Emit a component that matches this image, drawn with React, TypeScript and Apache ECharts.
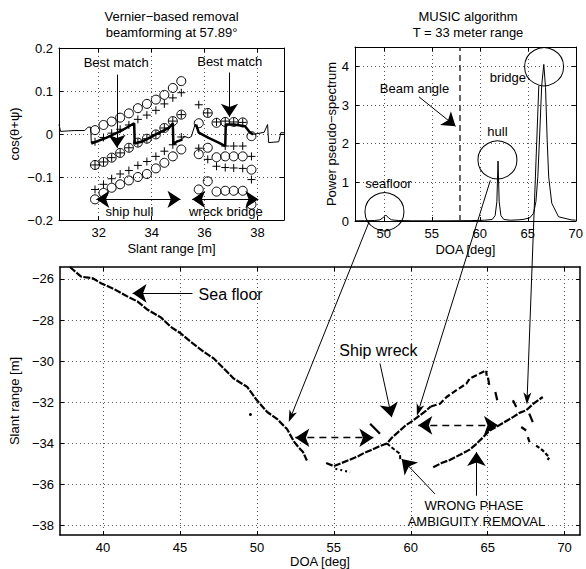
import React, { useEffect, useRef } from 'react';
import * as echarts from 'echarts';

const FONT = '"Liberation Sans", Arial, Helvetica, sans-serif';

// ---------- Top-left: Vernier-based removal ----------
const tlXTicks = [32, 34, 36, 38];
const tlYTicks = [-0.2, -0.1, 0, 0.1, 0.2];
const hullX = [31.86, 32.18, 32.49, 32.81, 33.14, 33.48, 33.82, 34.16, 34.48, 34.8, 35.12];
const hullCircleUpper = [0.009, 0.021, 0.029, 0.038, 0.048, 0.06, 0.07, 0.08, 0.091, 0.107, 0.123];
const hullPlusUpper = [-0.018, -0.008, 0.002, 0.011, 0.021, 0.034, 0.044, 0.055, 0.07, 0.084, 0.096];
const hullBoth = [-0.072, -0.065, -0.055, -0.044, -0.032, -0.02, -0.011, -0.001, 0.014, 0.03, 0.045];
const hullPlusLower = [-0.129, -0.117, -0.104, -0.093, -0.085, -0.073, -0.064, -0.052, -0.04, -0.025, -0.007];
const hullCircleLower = [-0.152, -0.137, -0.125, -0.117, -0.108, -0.1, -0.093, -0.08, -0.067, -0.052, -0.036];
const bridgeX = [35.78, 36.12, 36.45, 36.78, 37.1, 37.44, 37.77];
const bridgeCircleUpper = [0.025, 0.049, 0.026, 0.028, 0.028, 0.027, -0.005];
const bridgeCircleMid = [-0.047, -0.032, -0.054, -0.052, -0.052, -0.052, -0.083];
const bridgeCircleLower = [-0.129, -0.11, -0.134, -0.132, -0.132, -0.132, -0.164];
const bridgePlus = [
  [35.78, 0.068], [36.12, 0.049], [36.45, 0.028], [36.78, 0.03], [37.1, 0.028], [37.44, 0.027],
  [35.78, -0.033], [36.12, -0.059], [36.45, -0.075], [36.78, -0.028], [37.1, -0.028], [37.44, -0.028], [37.77, -0.052],
  [36.78, -0.078], [37.1, -0.079], [37.44, -0.08], [37.77, -0.106],
];
const hullBest = [[31.72, -0.022], [32.28, -0.009], [32.84, 0.007], [33.34, 0.025], [33.36, -0.022], [33.66, -0.017], [34.16, -0.001], [34.65, 0.014], [34.8, 0.025], [34.82, -0.024], [34.97, -0.017], [35.16, -0.013]];
const bridgeBest = [[35.68, 0.022], [35.78, 0.003], [36.15, -0.009], [36.53, -0.02], [36.78, -0.028], [36.8, 0.022], [37.1, 0.022], [37.53, 0.018], [37.72, 0.003], [37.84, -0.001]];
const beamLeft = [[30.5, 0.022], [30.56, 0.006], [30.8, 0.007], [31.1, 0.008], [31.47, 0.008], [31.6, 0.016], [31.7, 0.016], [31.72, -0.022]];
const beamMid = [[35.16, -0.013], [35.22, -0.005], [35.4, -0.009], [35.5, -0.006], [35.64, 0.022], [35.68, 0.022]];
const beamRight = [[37.84, -0.001], [38.25, 0.004], [38.38, 0.022], [38.42, -0.02], [38.8, -0.018], [38.88, 0.003], [39, 0.003]];
const tlLabels = [
  { name: 'Best match', value: [32.66, 0.166] },
  { name: 'Best match', value: [36.95, 0.169] },
  { name: 'ship hull', value: [33.16, -0.18] },
  { name: 'wreck bridge', value: [36.8, -0.18] },
];
const tlArrows = [[[32.69, 0.138], [32.69, -0.032]], [[36.94, 0.143], [36.94, 0.04]]];
const tlDoubleArrows = [[[31.91, -0.152], [35.09, -0.152]], [[35.53, -0.152], [38.03, -0.152]]];

// ---------- Top-right: MUSIC ----------
const trXTicks = [50, 55, 60, 65, 70];
const trYTicks = [0, 1, 2, 3, 4];
const spectrum = [
  [47, 0.005], [48, 0.008], [49, 0.012], [49.6, 0.03], [49.9, 0.08], [50.2, 0.155], [50.5, 0.08], [50.8, 0.03], [51.5, 0.012],
  [53, 0.006], [55, 0.005], [57, 0.006], [59, 0.01], [60.5, 0.02], [61.3, 0.04], [61.6, 0.14], [61.78, 0.5], [61.9, 1.55],
  [62.02, 0.5], [62.2, 0.14], [62.5, 0.04], [63.2, 0.02], [64, 0.03], [64.5, 0.04], [65.2, 0.08], [65.6, 0.2], [65.85, 0.5],
  [66.05, 1.15], [66.25, 2.3], [66.45, 3.5], [66.67, 4.05], [66.85, 3.45], [67.02, 2.1], [67.18, 1.14], [67.5, 0.46],
  [68.2, 0.11], [69.5, 0.03], [70, 0.02],
];
const beamAngle = 57.89;
const trCircles = [[50.07, 0.24], [61.84, 1.58], [66.7, 3.99]];
const trLabels = [
  { name: 'Beam angle', value: [53.2, 3.43] },
  { name: 'hull', value: [61.84, 2.31] },
  { name: 'bridge', value: [62.93, 3.7] },
  { name: 'seafloor', value: [50.48, 0.97] },
];
const trArrows = [[[53.67, 3.21], [57.48, 2.45]]];

// ---------- Bottom: DOA vs slant range ----------
const bXTicks = [40, 45, 50, 55, 60, 65, 70];
const bYTicks = [-38, -36, -34, -32, -30, -28, -26];
const seaFloor = [
  [37.85, -25.42], [38.58, -25.89], [39.33, -25.97], [39.87, -26.21], [40.73, -26.5], [41.6, -26.86], [42.25, -27.1],
  [42.9, -27.5], [43.76, -27.87], [44.4, -28.33], [45.05, -28.65], [45.7, -29.06], [46.56, -29.55], [47.2, -29.87],
  [47.86, -30.36], [48.5, -30.85], [49.37, -31.25], [50.0, -31.9], [50.67, -32.47], [51.3, -32.8], [51.96, -33.3],
  [52.4, -33.9], [52.7, -34.18], [53.0, -34.42], [53.25, -34.83],
];
const seaDot = [[49.58, -32.59]];
const hullTrack = [
  [54.5, -34.95], [55.0, -35.1], [55.5, -34.95], [56.0, -34.8], [56.5, -34.65], [57.0, -34.45], [57.4, -34.33],
  [58.0, -34.12], [58.45, -34.0], [58.8, -33.7], [59.3, -33.37], [59.7, -33.1], [60.16, -32.88], [60.6, -32.63],
  [61.0, -32.4], [61.3, -32.2],
];
const hullTail = [[58.45, -34.0], [58.87, -34.26], [59.3, -34.5], [59.32, -34.83]];
const hullDots = [[55.1, -35.23], [55.63, -35.32], [56.06, -35.4]];
const hullStub = [[57.36, -33.04], [58.0, -33.53]];
const upperTrack = [[61.3, -32.2], [61.9, -32.07], [62.33, -31.74], [62.97, -31.41], [63.62, -31.09], [63.83, -30.84], [64.27, -30.68], [64.9, -30.44], [64.93, -30.7]];
const upperBitA = [[65.02, -30.8], [65.1, -31.15]];
const upperBitB = [[65.5, -31.5], [65.62, -31.9]];
const bridgeTrack = [
  [61.46, -35.16], [62.0, -34.95], [62.54, -34.8], [63.2, -34.55], [63.83, -34.3], [64.3, -34.0], [64.7, -33.7],
  [65.13, -33.37], [65.56, -33.2], [66.0, -33.0], [66.64, -32.72], [67.1, -32.5], [67.5, -32.39], [68.0, -32.05], [68.58, -31.74],
];
const bridgeSpurA = [[66.64, -31.9], [66.86, -32.23]];
const bridgeSpurB = [[67.7, -32.55], [67.93, -32.96]];
const bridgeBitA = [[67.18, -33.2], [67.5, -33.37]];
const bridgeBitB = [[67.61, -33.69], [67.72, -33.94]];
const bridgeBitC = [[68.15, -34.1], [68.58, -34.34], [69.0, -34.67], [68.9, -34.8]];
const bLabels = [
  { name: 'WRONG PHASE', value: [64.11, -37.02] },
  { name: 'AMBIGUITY REMOVAL', value: [64.27, -37.79] },
];
const bBigLabels = [
  { name: 'Sea floor', value: [48.29, -26.78] },
  { name: 'Ship wreck', value: [57.9, -29.5] },
];
const bArrows = [
  [[45.81, -26.7], [41.92, -26.7]],
  [[58.0, -30.11], [58.76, -32.72]],
  [[61.57, -36.45], [59.41, -34.75]],
  [[64.27, -36.54], [64.27, -34.42]],
];
const bDashedArrows = [[[52.5, -33.72], [57.57, -33.72]], [[60.49, -33.12], [65.67, -33.12]]];

// cross-panel links: from top-right (MUSIC) to bottom
const crossFrom = [[48.5, 0.0], [61.1, 1.05], [66.15, 3.5]];
const crossTo = [[52.07, -32.96], [60.4, -32.65], [67.55, -32.1]];

const fmt = (v: number) => {
  const r = Math.round(v * 100) / 100;
  return (r < 0 ? '\u2212' : '') + String(Math.abs(r));
};

const pts = (xs: number[], ys: number[]) => xs.map((x, i) => [x, ys[i]]);

function axis(gridIndex: number, position: string, min: number, max: number, ticks: number[], main: boolean, lw: number, extra: any = {}) {
  return {
    type: 'value', gridIndex, position, min, max,
    axisLine: { show: true, onZero: false, lineStyle: { color: '#000', width: lw } },
    axisTick: { show: true, inside: true, length: 4, customValues: ticks, lineStyle: { color: '#000', width: 1 } },
    axisLabel: { show: main, customValues: ticks, formatter: fmt, color: '#000', fontSize: 13, fontFamily: FONT, margin: 6 },
    splitLine: { show: main, lineStyle: { color: '#555', width: 1, type: [1, 3] } },
    nameTextStyle: { color: '#000', fontSize: 13, fontFamily: FONT },
    ...extra,
  };
}

const lineSeries = (ai: number, data: number[][], width: number, dash?: any) => ({
  type: 'line', xAxisIndex: ai, yAxisIndex: ai, data, showSymbol: false, symbol: 'none', silent: true,
  lineStyle: { color: '#000', width, type: dash || 'solid' }, z: 3,
});

const circleSeries = (ai: number, data: number[][], size: any) => ({
  type: 'scatter', xAxisIndex: ai, yAxisIndex: ai, data, symbol: 'circle', symbolSize: size, silent: true,
  itemStyle: { color: 'rgba(0,0,0,0)', borderColor: '#000', borderWidth: 1, opacity: 1 }, z: 4,
});

const plusSeries = (ai: number, data: number[][]) => ({
  type: 'scatter', xAxisIndex: ai, yAxisIndex: ai, data, symbol: 'path://M5,0L5,10M0,5L10,5', symbolSize: 8, silent: true,
  itemStyle: { color: '#000', borderColor: '#000', borderWidth: 1, opacity: 1 }, z: 4,
});

const textSeries = (ai: number, data: any[], fontSize: number) => ({
  type: 'scatter', xAxisIndex: ai, yAxisIndex: ai, data, symbolSize: 1, silent: true,
  itemStyle: { color: 'rgba(0,0,0,0)', opacity: 1 },
  label: { show: true, position: 'inside', formatter: '{b}', color: '#000', fontSize, fontFamily: FONT },
  z: 6,
});

const arrowSeries = (ai: number, lines: number[][][], symbol: string[], dash: any, width: number, size: number) => ({
  type: 'line', xAxisIndex: ai, yAxisIndex: ai, data: [], silent: true,
  markLine: {
    silent: true, animation: false, symbol, symbolSize: size, label: { show: false },
    lineStyle: { color: '#000', width, type: dash, opacity: 1 },
    itemStyle: { color: '#000', opacity: 1 },
    emphasis: { disabled: true },
    data: lines.map(([a, b]) => [{ coord: a }, { coord: b }]),
  },
  z: 5,
});

function buildOption() {
  return {
    animation: false,
    backgroundColor: '#fff',
    textStyle: { fontFamily: FONT },
    grid: [
      { left: 59, top: 48, width: 225, height: 172 },
      { left: 355, top: 47, width: 225, height: 174 },
      { left: 59, top: 267, width: 521, height: 268 },
    ],
    xAxis: [
      axis(0, 'bottom', 30.5, 39, tlXTicks, true, 1, { name: 'Slant range [m]', nameLocation: 'middle', nameGap: 22 }),
      axis(1, 'bottom', 47, 70, trXTicks, true, 1, { name: 'DOA [deg]', nameLocation: 'middle', nameGap: 22 }),
      axis(2, 'bottom', 37.2, 71, bXTicks, true, 1.5, { name: 'DOA [deg]', nameLocation: 'middle', nameGap: 20 }),
      axis(0, 'top', 30.5, 39, tlXTicks, false, 1),
      axis(1, 'top', 47, 70, trXTicks, false, 1),
      axis(2, 'top', 37.2, 71, bXTicks, false, 1.5),
    ],
    yAxis: [
      axis(0, 'left', -0.2, 0.2, tlYTicks, true, 1, { name: 'cos(\u03b8+\u03c8)', nameLocation: 'middle', nameGap: 38 }),
      axis(1, 'left', 0, 4.5, trYTicks, true, 1, { name: 'Power pseudo\u2212spectrum', nameLocation: 'middle', nameGap: 16 }),
      axis(2, 'left', -38.45, -25.42, bYTicks, true, 1.5, { name: 'Slant range [m]', nameLocation: 'middle', nameGap: 33 }),
      axis(0, 'right', -0.2, 0.2, tlYTicks, false, 1),
      axis(1, 'right', 0, 4.5, trYTicks, false, 1),
      axis(2, 'right', -38.45, -25.42, bYTicks, false, 1.5),
    ],
    series: [
      // top-left
      lineSeries(0, beamLeft, 1),
      lineSeries(0, beamMid, 1),
      lineSeries(0, beamRight, 1),
      lineSeries(0, hullBest, 2.5),
      lineSeries(0, bridgeBest, 2.5),
      circleSeries(0, pts(hullX, hullCircleUpper), 9),
      circleSeries(0, pts(hullX, hullBoth), 9),
      circleSeries(0, pts(hullX, hullCircleLower), 9),
      circleSeries(0, pts(bridgeX, bridgeCircleUpper), 9),
      circleSeries(0, pts(bridgeX, bridgeCircleMid), 9),
      circleSeries(0, pts(bridgeX, bridgeCircleLower), 9),
      plusSeries(0, pts(hullX, hullPlusUpper)),
      plusSeries(0, pts(hullX, hullBoth)),
      plusSeries(0, pts(hullX, hullPlusLower)),
      plusSeries(0, bridgePlus),
      textSeries(0, tlLabels, 13),
      arrowSeries(0, tlArrows, ['none', 'arrow'], 'solid', 1, 13),
      arrowSeries(0, tlDoubleArrows, ['arrow', 'arrow'], 'solid', 1, 13),
      // top-right
      lineSeries(1, spectrum, 1),
      {
        type: 'line', xAxisIndex: 1, yAxisIndex: 1, data: [], silent: true,
        markLine: {
          silent: true, symbol: ['none', 'none'], label: { show: false },
          lineStyle: { color: '#333', width: 1.5, type: [6, 4] },
          data: [{ xAxis: beamAngle }],
        },
      },
      circleSeries(1, trCircles, [39, 38]),
      textSeries(1, trLabels, 13),
      arrowSeries(1, trArrows, ['none', 'arrow'], 'solid', 1, 13),
      // bottom
      lineSeries(2, seaFloor, 2.2, [7, 1.5]),
      lineSeries(2, hullTrack, 2.2, [7, 1.5]),
      lineSeries(2, hullTail, 2, [4, 2]),
      lineSeries(2, hullDots, 2, [2, 3]),
      lineSeries(2, hullStub, 2.2),
      lineSeries(2, upperTrack, 2.2, [6, 2.5]),
      lineSeries(2, upperBitA, 2.2),
      lineSeries(2, upperBitB, 2.2),
      lineSeries(2, bridgeTrack, 2.2, [7, 1.5]),
      lineSeries(2, bridgeSpurA, 2.2),
      lineSeries(2, bridgeSpurB, 2.2),
      lineSeries(2, bridgeBitA, 2.2),
      lineSeries(2, bridgeBitB, 2.2),
      lineSeries(2, bridgeBitC, 2.2, [4, 2]),
      {
        type: 'scatter', xAxisIndex: 2, yAxisIndex: 2, data: seaDot, symbolSize: 3, silent: true,
        itemStyle: { color: '#000', opacity: 1 },
      },
      textSeries(2, bBigLabels, 16),
      textSeries(2, bLabels, 13),
      arrowSeries(2, bArrows, ['none', 'arrow'], 'solid', 1, 14),
      arrowSeries(2, bDashedArrows, ['arrow', 'arrow'], [7, 5], 1.3, 14),
    ],
  };
}

function arrowGraphic(p1: number[], p2: number[], len: number, width: number) {
  const dx = p2[0] - p1[0];
  const dy = p2[1] - p1[1];
  const d = Math.sqrt(dx * dx + dy * dy) || 1;
  const ux = dx / d;
  const uy = dy / d;
  const bx = p2[0] - ux * len;
  const by = p2[1] - uy * len;
  const nx = p2[0] - ux * len * 0.72;
  const ny = p2[1] - uy * len * 0.72;
  const px = -uy * width / 2;
  const py = ux * width / 2;
  return [
    { type: 'line', silent: true, z: 100, shape: { x1: p1[0], y1: p1[1], x2: nx, y2: ny }, style: { stroke: '#000', lineWidth: 1 } },
    {
      type: 'polygon', silent: true, z: 100,
      shape: { points: [[p2[0], p2[1]], [bx + px, by + py], [nx, ny], [bx - px, by - py]] },
      style: { fill: '#000' },
    },
  ];
}

const titleText = (text: string, x: number, y: number) => ({
  type: 'text', x, y, silent: true,
  style: { text, fill: '#000', fontSize: 13, fontFamily: FONT, textAlign: 'center', textVerticalAlign: 'middle' },
});

export default function App() {
  const ref = useRef<HTMLDivElement>(null);
  useEffect(() => {
    const chart = echarts.init(ref.current as HTMLDivElement, null, { renderer: 'svg' });
    chart.setOption(buildOption() as any);
    const graphics: any[] = [
      titleText('Vernier\u2212based removal', 171.5, 16),
      titleText('beamforming at 57.89\u00b0', 171.5, 32),
      titleText('MUSIC algorithm', 468, 16),
      titleText('T = 33 meter range', 468, 32),
    ];
    crossFrom.forEach((from, i) => {
      const p1 = chart.convertToPixel({ xAxisIndex: 1, yAxisIndex: 1 } as any, from) as unknown as number[];
      const p2 = chart.convertToPixel({ xAxisIndex: 2, yAxisIndex: 2 } as any, crossTo[i]) as unknown as number[];
      if (p1 && p2) graphics.push(...arrowGraphic(p1, p2, 12, 8));
    });
    chart.setOption({ graphic: graphics } as any);
    return () => chart.dispose();
  }, []);
  return (
    <div
      ref={ref}
      style={{ position: 'fixed', left: 0, top: 0, width: 586, height: 569, background: '#fff' }}
    />
  );
}
